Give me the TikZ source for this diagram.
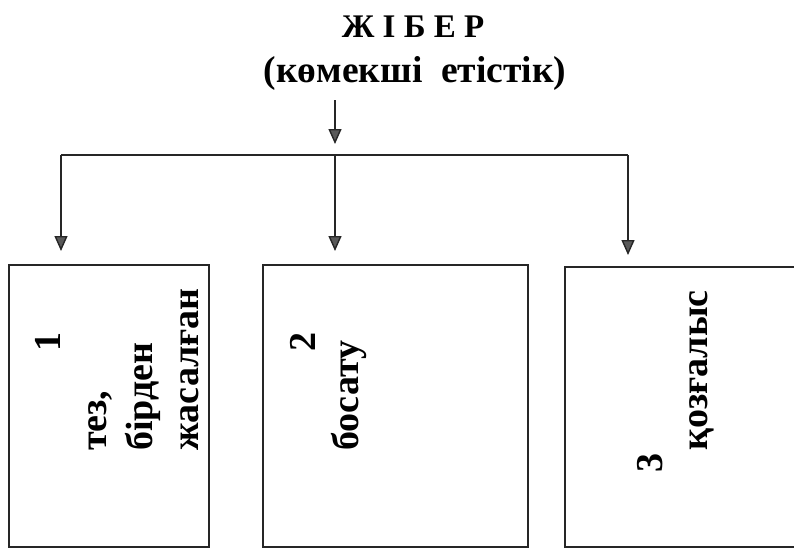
\documentclass[tikz,border=0pt]{standalone}
\usepackage{fontspec}
\setmainfont{Liberation Serif}
\usetikzlibrary{arrows.meta}
\begin{document}
\begin{tikzpicture}[x=1pt,y=1pt,
  txt/.style={font=\bfseries\fontsize{38}{44}\selectfont, inner sep=0pt},
  vtxt/.style={txt, rotate=90, anchor=base west},
  frame/.style={draw=black!85, line width=1.4pt, inner sep=0pt},
  link/.style={draw=black!85, line width=1.4pt},
  arr/.style={link, -{Triangle[length=15pt,width=13pt,fill=black!65]}}]
\useasboundingbox (0,0) rectangle (794,-550);
\fill[white] (0,0) rectangle (794,-550);
% heading
\node[font=\bfseries\fontsize{33}{38}\selectfont, inner sep=0pt, anchor=base] (title) at (413,-37) {Ж І Б Е Р};
\node[font=\bfseries\fontsize{37.5}{44}\selectfont, inner sep=0pt, anchor=base] (sub) at (415,-82) {(көмекші\ \ етістік)};
% three boxes
\node[frame, minimum width=200pt, minimum height=282pt] (b1) at (109,-406) {};
\node[frame, minimum width=265pt, minimum height=282pt] (b2) at (395.5,-406) {};
\node[frame, minimum width=265pt, minimum height=280pt] (b3) at (697.5,-407) {};
% branching connectors
\coordinate (j) at (335,-155);
\coordinate (jl) at (61,-155);
\coordinate (jr) at (628,-155);
\coordinate (s0) at (335,-100);
\draw[arr] (s0) -- (335,-144);
\draw[link] (jl) -- (jr);
\draw[arr] (jl) -- (61,-251);
\draw[arr] (j) -- (335,-251);
\draw[arr] (jr) -- (628,-255);
% box texts
\node[vtxt] (n1) at (60,-352) {1};
\node[vtxt] (t1a) at (106,-451) {тез,};
\node[vtxt] (t1b) at (152,-451) {бірден};
\node[vtxt] (t1c) at (198,-451) {жасалған};
\node[vtxt] (n2) at (315,-352) {2};
\node[vtxt] (t2) at (358,-451) {босату};
\node[vtxt] (n3) at (662,-473) {3};
\node[vtxt] (t3) at (707,-451) {қозғалыс};
\end{tikzpicture}
\end{document}
